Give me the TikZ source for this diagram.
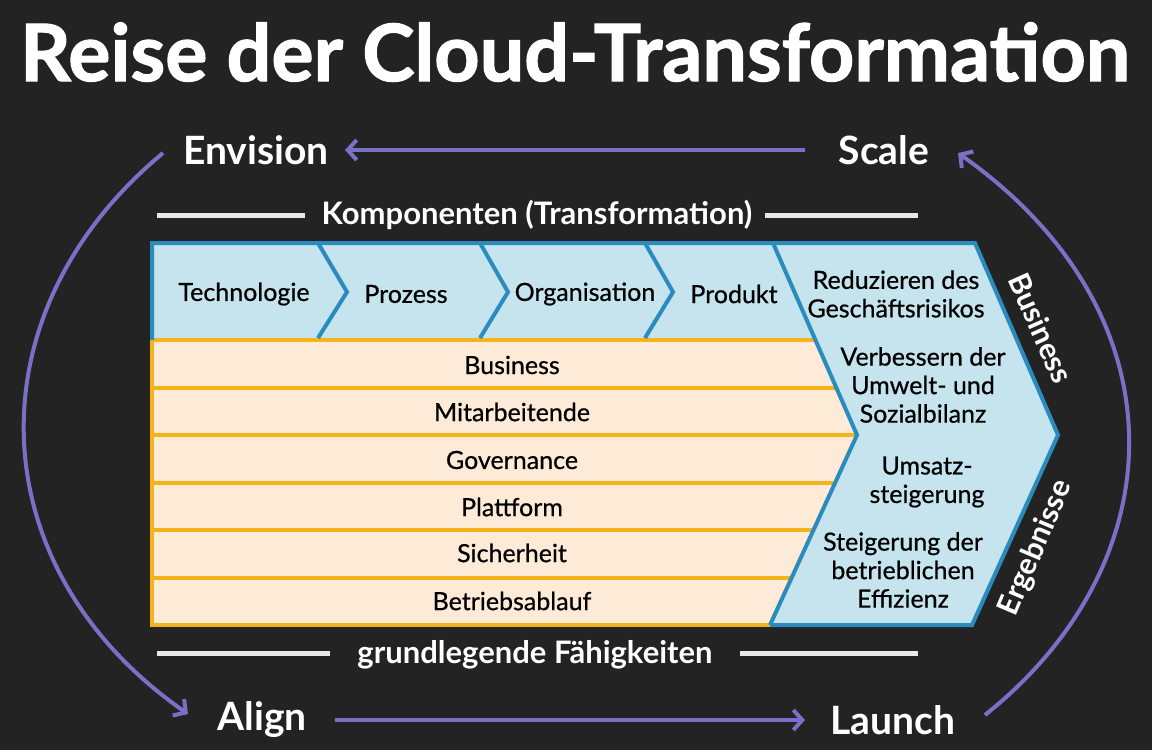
\documentclass[tikz,border=0pt]{standalone}
\usepackage{fontspec}
\setmainfont{Lato}
\newfontfamily\medfont[FakeBold=0.6]{Lato}
\newfontfamily\titlefont[BoldFeatures={FakeBold=1.5}]{Lato}
\usetikzlibrary{arrows.meta}
\definecolor{bg}{HTML}{232323}
\definecolor{purp}{HTML}{7B70C7}
\definecolor{bandfill}{HTML}{C6E4EE}
\definecolor{bandline}{HTML}{2A8BBF}
\definecolor{peach}{HTML}{FDEBD8}
\definecolor{yell}{HTML}{F3B41B}
\definecolor{wl}{HTML}{E8E8E8}
\tikzset{
  ttl/.style={font=\titlefont\bfseries\fontsize{79}{84}\selectfont, text=white, inner sep=0},
  lbl/.style={font=\bfseries\fontsize{39}{44}\selectfont, text=white, inner sep=0},
  sub/.style={font=\bfseries\fontsize{31}{34}\selectfont, text=white, inner sep=0},
  side/.style={font=\bfseries\fontsize{30}{34}\selectfont, text=white, inner sep=0},
  btxt/.style={font=\medfont\fontsize{25}{28.5}\selectfont, text=black, inner sep=0, align=center},
  parrow/.style={draw=purp, line width=4pt, -{Straight Barb[length=9pt,width=20pt]}},
  wline/.style={draw=wl, line width=5pt},
  yline/.style={draw=yell, line width=4.5pt},
  bline/.style={draw=bandline, line width=4pt, line join=miter},
}
\begin{document}
\begin{tikzpicture}[x=1pt,y=-1pt]
\fill[bg] (0,0) rectangle (1152,750);
\useasboundingbox (0,0) rectangle (1152,750);

% title
\node[ttl] (title) at (575,52) {Reise der Cloud-Transformation};

% cycle labels
\node[lbl] (envision) at (256,150) {Envision};
\node[lbl] (scale) at (884,150) {Scale};
\node[lbl] (align) at (262,720) {Align};
\node[lbl] (launch) at (893,720) {Launch};

\coordinate (e1) at (163,153);
\coordinate (a1) at (188,714);
\coordinate (l1) at (985,715);
\coordinate (s1) at (958,153);
\coordinate (sc1) at (805,150);
\coordinate (en1) at (345,150);
\coordinate (al1) at (335,720);
\coordinate (la1) at (805,720);

\draw[parrow] (sc1) -- (en1);
\draw[parrow] (al1) -- (la1);
\draw[parrow] (e1) .. controls (-30,313) and (-22,568) .. (a1);
\draw[parrow] (l1) .. controls (1177,562) and (1185,313) .. (s1);

% sub headings
\node[sub] (komp) at (537,215) {Komponenten (Transformation)};
\draw[wline] (157,215) -- (305,215);
\draw[wline] (765,215) -- (918,215);
\node[sub] (grund) at (535,655) {grundlegende Fähigkeiten};
\draw[wline] (157,653) -- (330,653);
\draw[wline] (740,653) -- (918,653);

% yellow rows area
\fill[peach] (152,338) -- (815,338) -- (857,435) -- (770,625) -- (152,625) -- cycle;
% blue band + result chevron
\fill[bandfill] (152,243) -- (975,243) -- (1058,435) -- (972,625) -- (770,625) -- (857,435) -- (815,338) -- (152,338) -- cycle;

% row separators
\draw[yline] (152,340) -- (815,340);
\draw[yline] (152,388) -- (836,388);
\draw[yline] (152,435) -- (857,435);
\draw[yline] (152,483) -- (835,483);
\draw[yline] (152,530) -- (813,530);
\draw[yline] (152,578) -- (791,578);
\draw[yline] (152,625) -- (770,625);
\draw[yline] (152,338) -- (152,627);

% blue outlines
\draw[bline] (152,340) -- (152,243) -- (975,243) -- (1058,435) -- (972,625) -- (770,625);
\draw[bline] (773,243) -- (857,435) -- (770,625);
\draw[bline] (318,243) -- (347,292) -- (318,338);
\draw[bline] (480,243) -- (508,292) -- (480,338);
\draw[bline] (645,243) -- (673,292) -- (645,338);

% band texts
\node[btxt] (tech) at (244,294) {Technologie};
\node[btxt] (proz) at (406,294) {Prozess};
\node[btxt] (orga) at (585,294) {Organisation};
\node[btxt] (prod) at (734,294) {Produkt};

% result texts
\node[btxt] (r1) at (896,294) {Reduzieren des\\Geschäftsrisikos};
\node[btxt] (r2) at (923,385) {Verbessern der\\Umwelt- und\\Sozialbilanz};
\node[btxt] (r3) at (927,482) {Umsatz-\\steigerung};
\node[btxt] (r4) at (903,570) {Steigerung der\\betrieblichen\\Effizienz};

% rows
\node[btxt] (row1) at (512,365) {Business};
\node[btxt] (row2) at (512,412) {Mitarbeitende};
\node[btxt] (row3) at (512,460) {Governance};
\node[btxt] (row4) at (512,507) {Plattform};
\node[btxt] (row5) at (512,553) {Sicherheit};
\node[btxt] (row6) at (512,601) {Betriebsablauf};

% side labels
\node[side, rotate=-66] (bus) at (1041,328) {Business};
\node[side, rotate=67] (erg) at (1036,548) {Ergebnisse};
\end{tikzpicture}
\end{document}
